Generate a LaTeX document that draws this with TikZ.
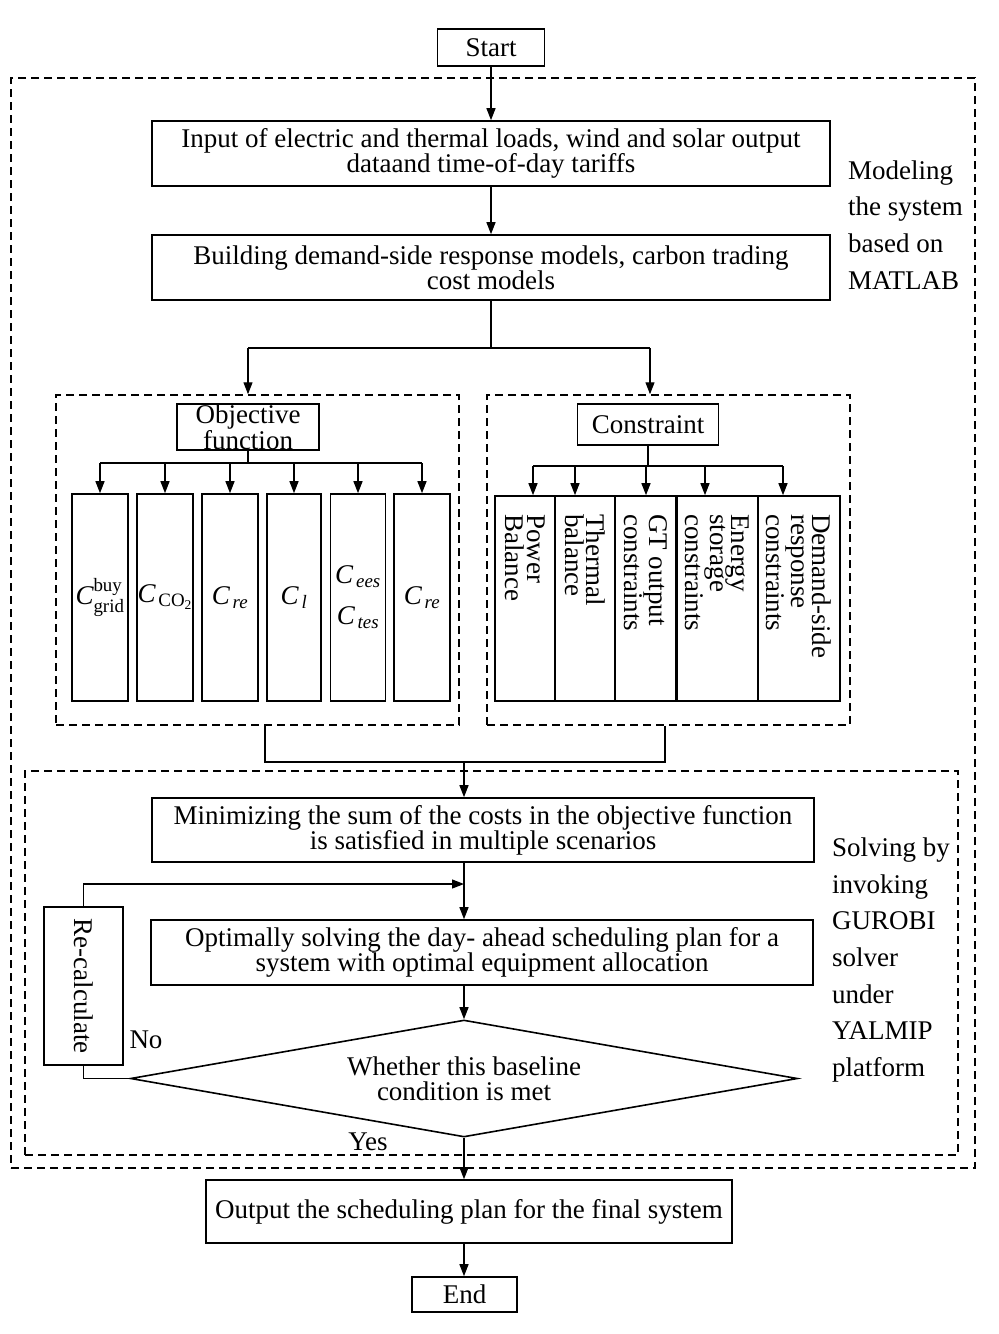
\documentclass[tikz,border=0pt]{standalone}
\usepackage{amsmath}
\usepackage{fontspec}
\setmainfont{Liberation Serif}
\usetikzlibrary{arrows.meta,shapes.geometric}
\newcommand{\Cit}{\textit{C}}
\begin{document}
\begin{tikzpicture}[x=1pt,y=1pt,yscale=-1,xscale=1,
  font=\fontsize{27}{25}\selectfont,
  box/.style={draw,line width=1.6pt,inner sep=0pt,align=center},
  grp/.style={draw,line width=1.5pt,dash pattern=on 8pt off 5pt,inner sep=0pt},
  vtext/.style={anchor=west,rotate=-90,align=left,inner sep=0pt,font=\fontsize{27}{21.5}\selectfont},
  side/.style={anchor=west,align=left,inner sep=0pt,font=\fontsize{27}{36.7}\selectfont},
  arr/.style={line width=1.2pt,-{Triangle[length=12pt,width=9pt]}},
  ln/.style={line width=1.2pt}]
\useasboundingbox (0,0) rectangle (999,1334);

%Dashed groups
\node[grp,minimum width=964,minimum height=1090] (modelgrp) at (493,623) {};
\node[grp,minimum width=933,minimum height=384] (solvgrp) at (491.5,963) {};
\node[grp,minimum width=403,minimum height=330] (objgrp) at (257.5,560) {};
\node[grp,minimum width=363,minimum height=330] (consgrp) at (668.5,560) {};

%Main boxes
\node[box,minimum width=107,minimum height=37] (start) at (491,47.5) {Start};
\node[box,minimum width=678,minimum height=65] (input) at (491,153.5) {Input of electric and thermal loads, wind and solar output\\dataand time-of-day tariffs};
\node[box,minimum width=678,minimum height=65] (build) at (491,267.5) {Building demand-side response models, carbon trading\\cost models};

%Objective function
\node[box,minimum width=142,minimum height=46,font=\fontsize{27}{21}\selectfont] (obj) at (248,427) {Objective\\function};
\node[box,minimum width=56,minimum height=207] (cgrid) at (100,597.5) {$\Cit^{\text{buy}}_{\text{grid}}$};
\node[box,minimum width=56,minimum height=207] (cco) at (165,597.5) {$\Cit_{\,\text{CO}_{\text{2}}}$};
\node[box,minimum width=56,minimum height=207] (cre) at (230,597.5) {$\Cit_{\,\textit{re}}$};
\node[box,minimum width=54,minimum height=207] (cl) at (294,597.5) {$\Cit_{\,\textit{l}}$};
\node[box,minimum width=55,minimum height=207] (cstore) at (358,597.5) {$\Cit_{\,\textit{ees}}$\\[16pt]$\Cit_{\,\textit{tes}}$};
\node[box,minimum width=56,minimum height=207] (cre2) at (422,597.5) {$\Cit_{\,\textit{re}}$};

%Constraint
\node[box,minimum width=141,minimum height=41] (cons) at (648,424.5) {Constraint};
\node[box,minimum width=60,minimum height=205] (pbal) at (525,598.5) {};
\node[box,minimum width=60,minimum height=205] (tbal) at (585,598.5) {};
\node[box,minimum width=61,minimum height=205] (gtout) at (645.5,598.5) {};
\node[box,minimum width=81,minimum height=205] (esto) at (717.5,598.5) {};
\node[box,minimum width=82,minimum height=205] (dsr) at (799,598.5) {};
% Text Node
\node[vtext] (pbaltxt) at (525,514) {Power\\Balance};
\node[vtext] (tbaltxt) at (585,514) {Thermal\\balance};
\node[vtext] (gtouttxt) at (645.5,514) {GT output\\constraints};
\node[vtext] (estotxt) at (717.5,514) {Energy\\storage\\constraints};
\node[vtext] (dsrtxt) at (799,514) {Demand-side\\response\\constraints};

%Solving part
\node[box,minimum width=662,minimum height=64] (mini) at (483,830) {Minimizing the sum of the costs in the objective function\\is satisfied in multiple scenarios};
\node[box,minimum width=662,minimum height=65] (opt) at (482,952.5) {Optimally solving the day- ahead scheduling plan for a\\system with optimal equipment allocation};
\node[draw,line width=1.6pt,diamond,aspect=5.7,inner sep=0pt,minimum width=667,minimum height=117,align=center] (dia) at (464,1078.5) {Whether this baseline\\condition is met};
\node[box,minimum width=79,minimum height=158] (recalc) at (83.5,986) {};
\node[anchor=center,rotate=-90,inner sep=0pt] (recalctxt) at (83.5,986) {Re-calculate};
\node[box,minimum width=526,minimum height=63] (out) at (469,1211.5) {Output the scheduling plan for the final system};
\node[box,minimum width=105,minimum height=35] (end) at (464.5,1294.5) {End};

% Text Node
\node[inner sep=0pt] (no) at (146,1040) {No};
\node[inner sep=0pt] (yes) at (368,1142) {Yes};
\node[side] (modeltxt) at (848,225) {Modeling\\the system\\based on\\MATLAB};
\node[side] (solvtxt) at (832,960) {Solving by\\invoking\\GUROBI\\solver\\under\\YALMIP\\platform};

%Branch points
\coordinate (split) at (491,348);
\coordinate (sl) at (248,348);
\coordinate (sr) at (650,348);
\coordinate (ob1) at (100,463);
\coordinate (ob2) at (165,463);
\coordinate (ob3) at (230,463);
\coordinate (ob4) at (294,463);
\coordinate (ob5) at (358,463);
\coordinate (ob6) at (422,463);
\coordinate (cb1) at (533,466);
\coordinate (cb2) at (575,466);
\coordinate (cb3) at (646,466);
\coordinate (cb4) at (705,466);
\coordinate (cb5) at (783,466);
\coordinate (jl) at (265,762);
\coordinate (jr) at (665,762);
\coordinate (jm) at (464,762);
\coordinate (ax) at (464,884);

%Straight Lines
\draw[arr] (start) -- (input);
\draw[arr] (input) -- (build);
\draw[ln] (build) -- (split);
\draw[ln] (sl) -- (sr);
\draw[arr] (sl) -- (sl |- objgrp.north);
\draw[arr] (sr) -- (sr |- consgrp.north);

\draw[ln] (obj) -- (obj |- ob1);
\draw[ln] (ob1) -- (ob6);
\draw[arr] (ob1) -- (ob1 |- cgrid.north);
\draw[arr] (ob2) -- (ob2 |- cco.north);
\draw[arr] (ob3) -- (ob3 |- cre.north);
\draw[arr] (ob4) -- (ob4 |- cl.north);
\draw[arr] (ob5) -- (ob5 |- cstore.north);
\draw[arr] (ob6) -- (ob6 |- cre2.north);

\draw[ln] (cons) -- (cons |- cb1);
\draw[ln] (cb1) -- (cb5);
\draw[arr] (cb1) -- (cb1 |- pbal.north);
\draw[arr] (cb2) -- (cb2 |- tbal.north);
\draw[arr] (cb3) -- (cb3 |- gtout.north);
\draw[arr] (cb4) -- (cb4 |- esto.north);
\draw[arr] (cb5) -- (cb5 |- dsr.north);

\draw[ln] (jl |- objgrp.south) -- (jl) -- (jr) -- (jr |- consgrp.south);
\draw[arr] (jm) -- (jm |- mini.north);
\draw[arr] (mini.south -| ax) -- (opt.north -| ax);
\draw[arr] (opt.south -| ax) -- (dia.north);
\draw[ln] (dia.west) -| (recalc.south);
\draw[arr] (recalc.north) |- (ax);
\draw[arr] (dia.south) -- (dia.south |- out.north);
\draw[arr] (out.south -| dia) -- (end.north -| dia);

\end{tikzpicture}
\end{document}
